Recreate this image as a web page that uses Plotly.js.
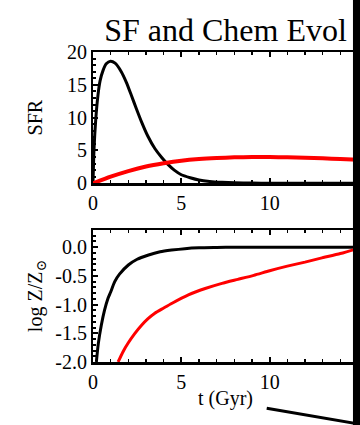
<!DOCTYPE html>
<html>
<head>
<meta charset="utf-8">
<script src="https://cdn.plot.ly/plotly-3.0.1.min.js"></script>
<style>
html,body{margin:0;padding:0;background:#fff;overflow:hidden;}
#chart{width:360px;height:425px;}
</style>
</head>
<body>
<div id="chart"></div>
<script>
// ---- data ----
const sfrBlackT = [0, 0.06, 0.15, 0.28, 0.4, 0.57, 0.75, 0.99, 1.25, 1.6, 1.9, 2.17, 2.45, 2.74, 3.1, 3.5, 3.9, 4.27, 4.6, 5.0, 5.5, 6.0, 6.6, 7.3, 8, 9, 10, 12, 15];
const sfrBlack  = [0, 5.3, 9.5, 13.4, 15.6, 17.2, 18.2, 18.6, 18.3, 17.0, 15.3, 13.4, 11.4, 9.4, 7.2, 5.3, 3.9, 2.8, 2.0, 1.3, 0.85, 0.5, 0.28, 0.15, 0.08, 0.03, 0.01, 0, 0];

const sfrRedT = [0, 1, 2, 3, 4, 5, 6, 7, 8, 9, 10, 11, 12, 13, 14, 15];
const sfrRed  = [0, 1.0, 1.85, 2.55, 3.05, 3.45, 3.7, 3.85, 3.95, 4.0, 4.0, 3.95, 3.9, 3.8, 3.7, 3.6];

const zBlackT = [0.19, 0.3, 0.47, 0.65, 0.85, 1.0, 1.23, 1.5, 2.0, 2.5, 3.1, 3.8, 4.45, 5.2, 6.0, 7, 8, 10, 15];
const zBlack  = [-2.0, -1.68, -1.36, -1.1, -0.89, -0.78, -0.60, -0.47, -0.31, -0.21, -0.14, -0.08, -0.05, -0.025, -0.01, -0.004, 0, 0, 0];

const zRedT = [1.42, 1.7, 1.99, 2.35, 2.75, 3.1, 3.5, 4.0, 4.45, 5.4, 6.35, 7.3, 8.2, 9.1, 10.0, 11.0, 12.0, 12.9, 14.0, 15];
const zRed  = [-2.0, -1.82, -1.67, -1.51, -1.36, -1.25, -1.15, -1.06, -0.98, -0.83, -0.72, -0.63, -0.56, -0.49, -0.41, -0.33, -0.26, -0.19, -0.11, -0.02];

const xTickVals = [0, 5, 10, 15];
const xTickText = ['0', '5', '10', '15'];
const sfrTickVals = [0, 5, 10, 15, 20];
const sfrTickText = ['0', '5', '10', '15', '20'];
const zTickVals = [-2.0, -1.5, -1.0, -0.5, 0.0];
const zTickText = ['-2.0', '-1.5', '-1.0', '-0.5', '0.0'];

const FONT = "'Liberation Serif', 'Times New Roman', 'DejaVu Serif', serif";

const traces = [
  {x: sfrBlackT, y: sfrBlack, xaxis: 'x', yaxis: 'y', mode: 'lines',
   line: {color: '#000000', width: 3, shape: 'spline', smoothing: 0.6}},
  {x: sfrRedT, y: sfrRed, xaxis: 'x', yaxis: 'y', mode: 'lines',
   line: {color: '#ff0000', width: 4, shape: 'spline', smoothing: 0.6}},
  {x: zBlackT, y: zBlack, xaxis: 'x2', yaxis: 'y2', mode: 'lines',
   line: {color: '#000000', width: 3, shape: 'spline', smoothing: 0.6}},
  {x: zRedT, y: zRed, xaxis: 'x2', yaxis: 'y2', mode: 'lines',
   line: {color: '#ff0000', width: 3, shape: 'spline', smoothing: 0.6}}
];

function xAx(anchor, withTitle) {
  const a = {
    anchor: anchor, range: [0, 15], tickmode: 'array', tickvals: xTickVals, ticktext: xTickText,
    ticks: 'inside', ticklen: 5, tickwidth: 2, tickcolor: '#000',
    minor: {ticks: 'inside', ticklen: 3, tickwidth: 1.5, tickcolor: '#000', dtick: 1, tick0: 0, showgrid: false},
    showline: true, linecolor: '#000', linewidth: 2.5, mirror: 'allticks',
    showgrid: false, zeroline: false, fixedrange: true,
    tickfont: {family: FONT, size: 20, color: '#000'}
  };
  if (withTitle) a.title = {text: 't (Gyr)', font: {family: FONT, size: 20, color: '#000'}, standoff: 0};
  return a;
}

const layout = {
  width: 360, height: 425,
  margin: {l: 93, r: 2, t: 52, b: 63},
  paper_bgcolor: '#ffffff', plot_bgcolor: '#ffffff',
  showlegend: false,
  font: {family: FONT, color: '#000'},
  title: {text: 'SF and Chem Evol', font: {family: FONT, size: 32, color: '#000'},
          xref: 'paper', x: 0.5, xanchor: 'center', yref: 'container', y: 0.93, yanchor: 'middle'},
  xaxis: xAx('y', false),
  xaxis2: xAx('y2', true),
  yaxis: {
    domain: [0.5765, 1], range: [0, 20], anchor: 'x',
    tickmode: 'array', tickvals: sfrTickVals, ticktext: sfrTickText,
    ticks: 'inside', ticklen: 5, tickwidth: 2, tickcolor: '#000',
    minor: {ticks: 'inside', ticklen: 3, tickwidth: 2, tickcolor: '#000', dtick: 1, tick0: 0, showgrid: false},
    showline: true, linecolor: '#000', linewidth: 2, mirror: 'allticks',
    showgrid: false, zeroline: false, fixedrange: true,
    tickfont: {family: FONT, size: 20, color: '#000'},
    title: {text: 'SFR', font: {family: FONT, size: 20, color: '#000'}}
  },
  yaxis2: {
    domain: [0, 0.4258], range: [-2.0, 0.3], anchor: 'x2',
    tickmode: 'array', tickvals: zTickVals, ticktext: zTickText,
    ticks: 'inside', ticklen: 5, tickwidth: 2, tickcolor: '#000',
    minor: {ticks: 'inside', ticklen: 3, tickwidth: 2, tickcolor: '#000', dtick: 0.1, tick0: 0, showgrid: false},
    showline: true, linecolor: '#000', linewidth: 2, mirror: 'allticks',
    showgrid: false, zeroline: false, fixedrange: true,
    tickfont: {family: FONT, size: 20, color: '#000'},
    title: {text: 'log Z/Z<sub>⊙</sub>', font: {family: FONT, size: 20, color: '#000'}}
  },
  shapes: [
    {type: 'line', xref: 'paper', yref: 'paper', x0: 0.6555, y0: -0.1494, x1: 1.0075, y1: -0.2006,
     line: {color: '#000', width: 3}},
    {type: 'rect', xref: 'paper', yref: 'paper', x0: 0.981, x1: 1.02, y0: -0.3, y1: 1.3,
     fillcolor: '#000', line: {width: 0}}
  ]
};

Plotly.newPlot('chart', traces, layout, {displayModeBar: false, staticPlot: true});
</script>
</body>
</html>
